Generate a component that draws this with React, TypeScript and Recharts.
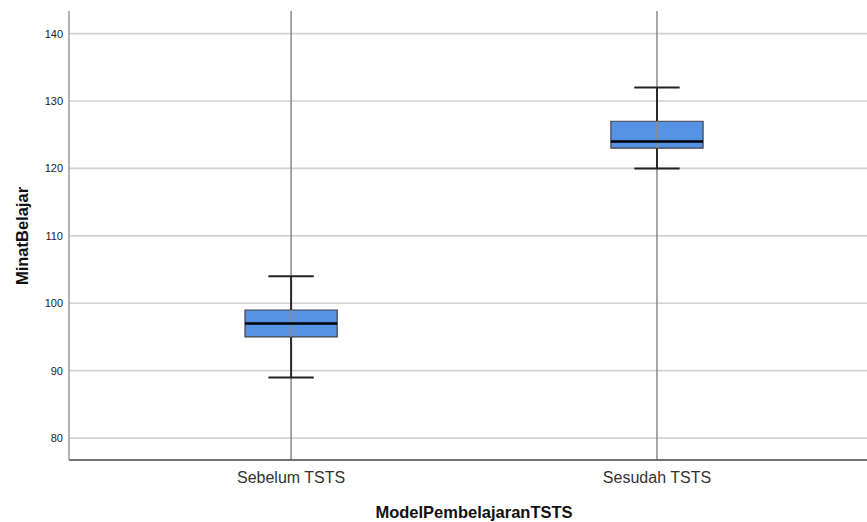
import React from 'react';
import {
  ComposedChart,
  Scatter,
  XAxis,
  YAxis,
  ReferenceLine,
  ReferenceArea,
} from 'recharts';

// Box-plot summary per learning model
const categories = ['Sebelum TSTS', 'Sesudah TSTS'];
const positions = [1, 2];
const minValues = [89, 120];
const q1Values = [95, 123];
const medianValues = [97, 124];
const q3Values = [99, 127];
const maxValues = [104, 132];
const yTicks = [80, 90, 100, 110, 120, 130, 140];

const FONT = '"Liberation Sans", Arial, Helvetica, sans-serif';
const BOX_HALF = 0.126;
const CAP_HALF = 0.062;

const rows = categories.map((name, i) => ({
  name,
  x: positions[i],
  min: minValues[i],
  q1: q1Values[i],
  median: medianValues[i],
  q3: q3Values[i],
  max: maxValues[i],
}));

const YTick = (props: any) => {
  const { x, y, payload } = props;
  return (
    <text x={x} y={y} dy={4} textAnchor="end" fontSize={11} fill="#222" fontFamily={FONT}>
      {payload.value}
    </text>
  );
};

const XTick = (props: any) => {
  const { x, y, payload } = props;
  const idx = positions.indexOf(payload.value);
  return (
    <text x={x} y={y} dy={12} textAnchor="middle" fontSize={16} fill="#333" fontFamily={FONT}>
      {idx >= 0 ? categories[idx] : ''}
    </text>
  );
};

export default function App() {
  return (
    <div style={{ position: 'absolute', left: 0, top: 0, background: '#fff' }}>
      <ComposedChart
        width={867}
        height={522}
        data={rows}
        margin={{ top: 11, right: 0, bottom: 32, left: 0 }}
      >
        <XAxis
          dataKey="x"
          type="number"
          domain={[0.393, 2.574]}
          ticks={positions}
          allowDataOverflow
          height={30}
          tickSize={0}
          tickMargin={11}
          tick={<XTick />}
          axisLine={{ stroke: '#444', strokeWidth: 1.5 }}
          label={() => (
            <text
              x={474}
              y={517.5}
              textAnchor="middle"
              fontSize={16.5}
              fontWeight="bold"
              fill="#111"
              fontFamily={FONT}
            >
              ModelPembelajaranTSTS
            </text>
          )}
        />
        <YAxis
          type="number"
          domain={[76.75, 143.35]}
          ticks={yTicks}
          allowDataOverflow
          width={69}
          tickSize={0}
          tickMargin={6}
          tick={<YTick />}
          axisLine={{ stroke: '#999', strokeWidth: 1.5 }}
          label={() => (
            <text
              x={27.5}
              y={236}
              transform="rotate(-90, 27.5, 236)"
              textAnchor="middle"
              fontSize={16.5}
              fontWeight="bold"
              fill="#111"
              fontFamily={FONT}
            >
              MinatBelajar
            </text>
          )}
        />

        {/* horizontal gridlines at each value tick */}
        {yTicks.map((t) => (
          <ReferenceLine key={`grid-${t}`} y={t} stroke="#d2d2d2" strokeWidth={1.6} />
        ))}

        {/* full-height category guides */}
        {rows.map((r) => (
          <ReferenceLine key={`g-${r.name}`} x={r.x} stroke="#8a8a8a" strokeWidth={1.5} />
        ))}

        {/* whiskers */}
        {rows.map((r) => (
          <ReferenceLine
            key={`wl-${r.name}`}
            segment={[{ x: r.x, y: r.min }, { x: r.x, y: r.q1 }]}
            stroke="#2a2a2a"
            strokeWidth={2}
          />
        ))}
        {rows.map((r) => (
          <ReferenceLine
            key={`wh-${r.name}`}
            segment={[{ x: r.x, y: r.q3 }, { x: r.x, y: r.max }]}
            stroke="#2a2a2a"
            strokeWidth={2}
          />
        ))}

        {/* whisker caps */}
        {rows.map((r) => (
          <ReferenceLine
            key={`cl-${r.name}`}
            segment={[{ x: r.x - CAP_HALF, y: r.min }, { x: r.x + CAP_HALF, y: r.min }]}
            stroke="#222"
            strokeWidth={2}
          />
        ))}
        {rows.map((r) => (
          <ReferenceLine
            key={`ch-${r.name}`}
            segment={[{ x: r.x - CAP_HALF, y: r.max }, { x: r.x + CAP_HALF, y: r.max }]}
            stroke="#222"
            strokeWidth={2}
          />
        ))}

        {/* interquartile boxes */}
        {rows.map((r) => (
          <ReferenceArea
            key={`b-${r.name}`}
            x1={r.x - BOX_HALF}
            x2={r.x + BOX_HALF}
            y1={r.q1}
            y2={r.q3}
            fill="#5592e4"
            fillOpacity={1}
            stroke="#444"
            strokeWidth={1.2}
          />
        ))}

        {/* medians */}
        {rows.map((r) => (
          <ReferenceLine
            key={`m-${r.name}`}
            segment={[{ x: r.x - BOX_HALF, y: r.median }, { x: r.x + BOX_HALF, y: r.median }]}
            stroke="#000"
            strokeWidth={2.6}
          />
        ))}

        <Scatter dataKey="median" isAnimationActive={false} shape={() => <g />} />
      </ComposedChart>
    </div>
  );
}
